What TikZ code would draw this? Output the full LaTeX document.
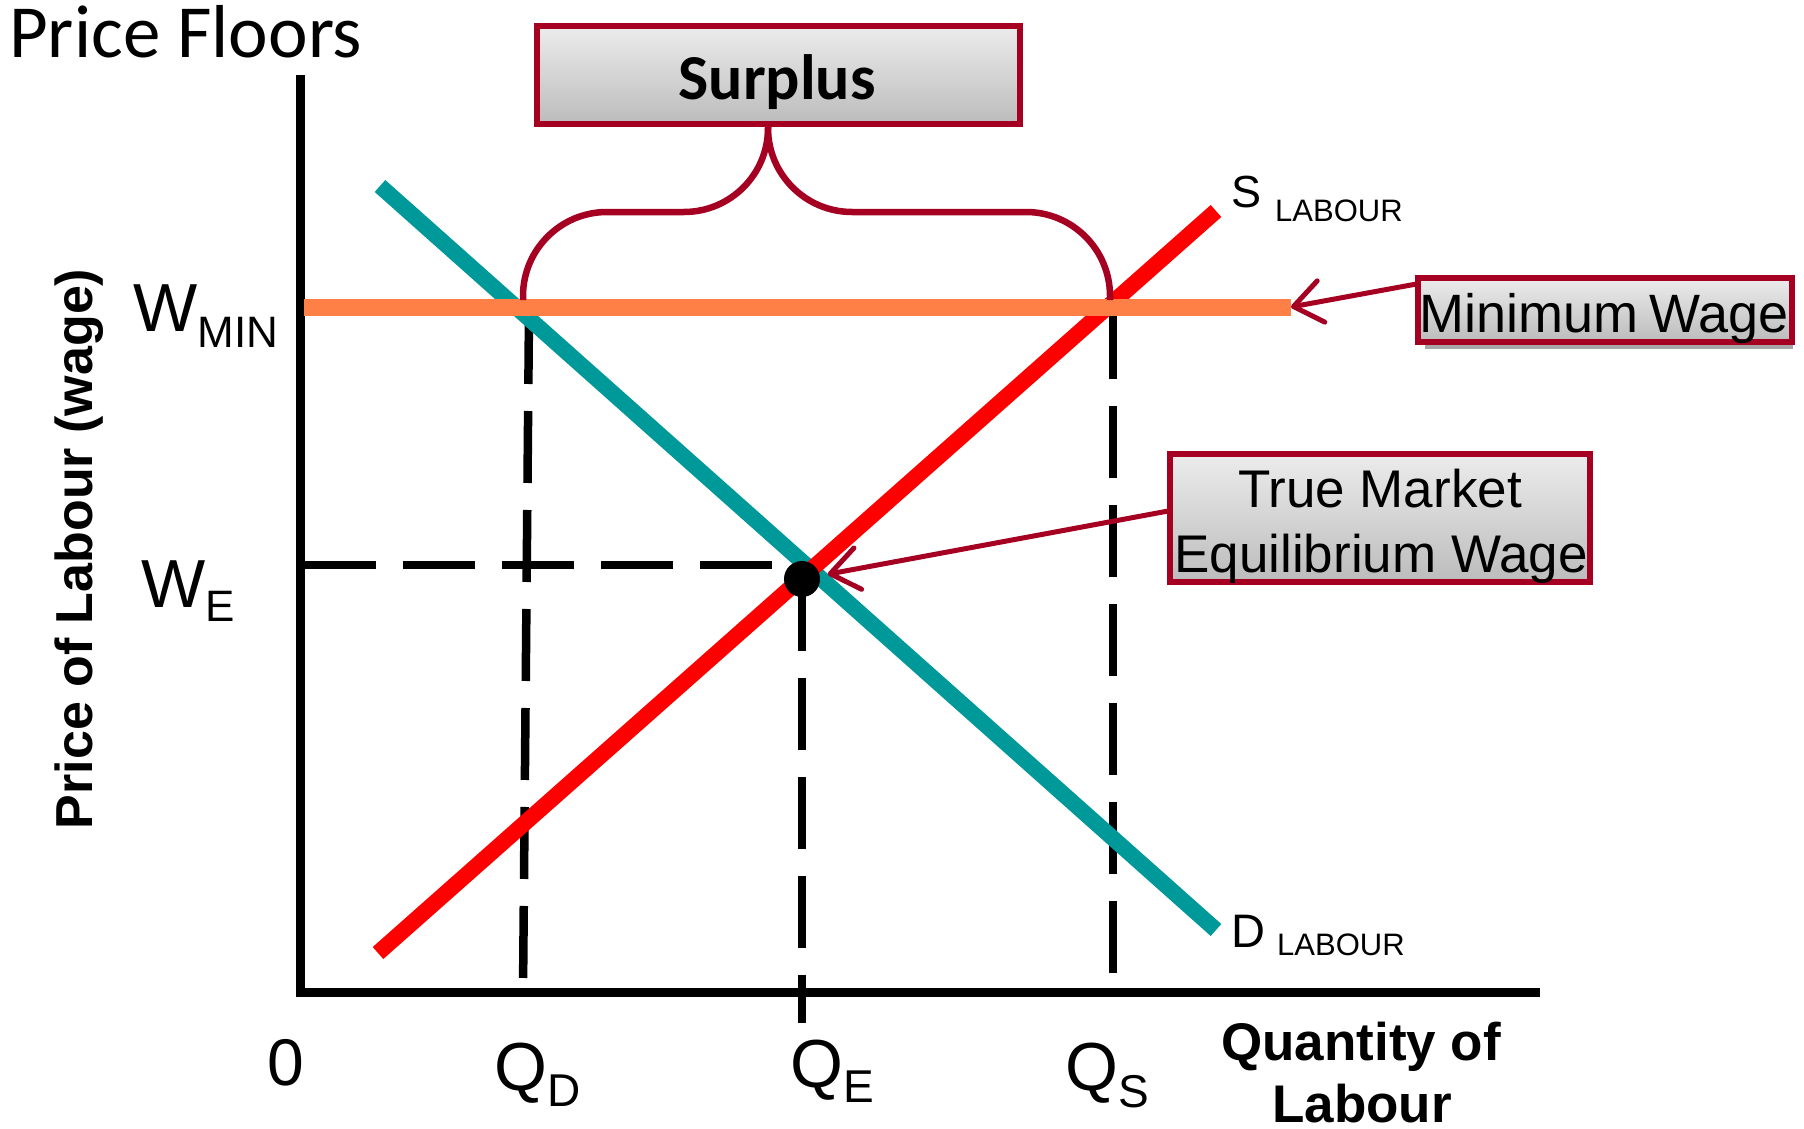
\documentclass[tikz,border=0pt]{standalone}
\usepackage{fontspec}
\setmainfont{Liberation Sans}
\newfontfamily\carl{Carlito}
\usetikzlibrary{arrows.meta}
\definecolor{dred}{RGB}{165,0,33}
\definecolor{tealc}{RGB}{0,153,153}
\definecolor{orng}{RGB}{255,128,70}
\definecolor{boxtop}{RGB}{236,236,236}
\definecolor{boxbot}{RGB}{188,188,188}
\newcommand\fsz[1]{\fontsize{#1}{#1}\selectfont}
\begin{document}
\begin{tikzpicture}[x=1pt,y=-1pt,
  box/.style={draw=dred,line width=6pt,top color=boxtop,bottom color=boxbot,inner sep=0pt,outer sep=0pt},
  lbl/.style={inner sep=0pt,anchor=base west},
  ctr/.style={inner sep=0pt,anchor=base},
  dashln/.style={line width=8.5pt,dash pattern=on 72pt off 27pt},
  arr/.style={draw=dred,line width=5pt,-{Straight Barb[length=28pt,width=42pt,round]}},
  brc/.style={draw=dred,line width=6.5pt,rounded corners=84pt},
  axis/.style={line width=9pt,line join=miter},
  curve/.style={line width=16pt}]
\useasboundingbox (0,0) rectangle (1804,1129);

% coordinates
\coordinate (O) at (300,992);
\coordinate (ytop) at (300,75);
\coordinate (xend) at (1540,992);
\coordinate (wminL) at (304,307);
\coordinate (wminR) at (1291,307);
\coordinate (dA) at (380,186);
\coordinate (dB) at (1216,930);
\coordinate (sA) at (378,953);
\coordinate (sB) at (1216,211);
\coordinate (qdT) at (529,312);
\coordinate (qdB) at (523,992);
\coordinate (qsT) at (1113,307);
\coordinate (qsB) at (1113,992);
\coordinate (weL) at (304,565);
\coordinate (weR) at (802,565);
\coordinate (eqc) at (802,579);
\coordinate (qeB) at (802,1023);

% dashed guide lines
\draw[dashln] (weL) -- (weR);
\draw[dashln] (qdT) -- (qdB);
\draw[dashln] (qsT) -- (qsB);
\draw[dashln] (eqc) -- (qeB);

% axes
\draw[axis] (ytop) -- (O) -- (xend);

% curves
\draw[curve,tealc] (dA) -- (dB);
\draw[curve,red] (sA) -- (sB);
\draw[orng,line width=17pt] (wminL) -- (wminR);

% equilibrium dot
\node[circle,fill=black,minimum size=36pt,inner sep=0pt] (eq) at (eqc) {};

% title
\node[lbl] (title) at (9,58) {\carl\fsz{75}Price Floors};

% surplus box and brace
\node[box,minimum width=483pt,minimum height=98pt] (surplus) at (778.5,75) {};
\node[ctr] (surplustxt) at (777,100) {\carl\bfseries\fsz{64}Surplus};
\coordinate (btip) at (768,127);
\coordinate (bmid) at (768,212);
\coordinate (bL) at (523,300);
\coordinate (bR) at (1110,300);
\draw[brc] (bL) |- (bmid) -- (btip);
\draw[brc] (btip) -- (bmid) -| (bR);

% minimum wage box
\fill[gray!85!black!60] (1425,282) rectangle (1793,349);
\node[box,minimum width=374pt,minimum height=64pt] (mwbox) at (1605,310) {};
\node[ctr] (mwtxt) at (1604,332) {\fsz{54}Minimum\hspace{-4pt} Wage};
\draw[arr] (mwbox.172) -- (wminR);

% true market box
\node[box,minimum width=420pt,minimum height=128pt] (tmbox) at (1380,518) {};
\node[ctr] (tm1) at (1380,507) {\fsz{53}True Market};
\node[ctr] (tm2) at (1381,572) {\fsz{53}Equilibrium Wage};
\draw[arr,shorten >=8pt] (tmbox.178) -- (eq);

% curve labels
\node[lbl] (sl1) at (1231,207) {\fsz{45}S};
\node[lbl] (sl2) at (1275,221) {\fsz{31}LABOUR};
\node[lbl] (dl1) at (1231,947) {\fsz{47}D};
\node[lbl] (dl2) at (1277,955) {\fsz{31}LABOUR};

% axis labels
\node[lbl] (wmin) at (133,331) {\fsz{68}W\raisebox{-16pt}{\fsz{44}MIN}};
\node[lbl] (we) at (141,607) {\fsz{68}W\raisebox{-14pt}{\fsz{44}E}};
\node[lbl] (zero) at (267,1085) {\fsz{66}0};
\node[lbl] (qd) at (494,1090) {\fsz{68}Q\raisebox{-16pt}{\fsz{46}D}};
\node[lbl] (qe) at (790,1087) {\fsz{68}Q\raisebox{-15pt}{\fsz{46}E}};
\node[lbl] (qs) at (1065,1090) {\fsz{68}Q\raisebox{-17pt}{\fsz{46}S}};
\node[ctr] (ql1) at (1361,1060) {\bfseries\fsz{53}Quantity of};
\node[ctr] (ql2) at (1362,1122) {\bfseries\fsz{53}Labour};
\node[ctr,rotate=90] (ylab) at (92,549) {\bfseries\fsz{52}Price of Labour (wage)};
\end{tikzpicture}
\end{document}
